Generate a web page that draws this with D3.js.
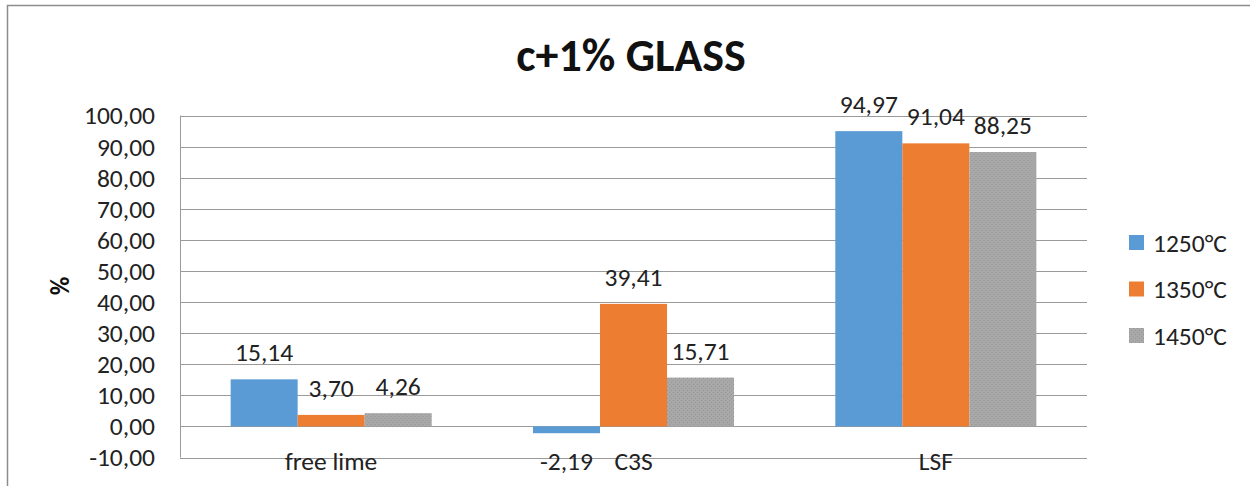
<!DOCTYPE html>
<html><head><meta charset="utf-8">
<script src="https://cdn.jsdelivr.net/npm/d3@7"></script>
<style>body{margin:0;background:#fff;}svg{display:block;font-family:Carlito,Lato,sans-serif;}</style>
</head><body>
<svg id="c" width="1250" height="486"></svg>
<script>
const categories = ["free lime", "C3S", "LSF"];
const seriesNames = ["1250°C", "1350°C", "1450°C"];
const values1250 = [15.14, -2.19, 94.97];
const values1350 = [3.70, 39.41, 91.04];
const values1450 = [4.26, 15.71, 88.25];
const yTicks = [-10, 0, 10, 20, 30, 40, 50, 60, 70, 80, 90, 100];
const colors = ["#5B9BD5", "#ED7D31", "#A5A5A5"];
const series = [values1250, values1350, values1450];
const FS = 25.5;

const svg = d3.select("#c");
const defs = svg.append("defs");
const pat = defs.append("pattern").attr("id","gp").attr("width",4).attr("height",4).attr("patternUnits","userSpaceOnUse");
pat.append("rect").attr("width",4).attr("height",4).attr("fill","#A8A8A8");
pat.append("rect").attr("x",0).attr("y",0).attr("width",1).attr("height",1).attr("fill","#969696");
pat.append("rect").attr("x",2).attr("y",2).attr("width",1).attr("height",1).attr("fill","#969696");

// frame
svg.append("path").attr("d","M7.5,490 L7.5,5.5 L1260,5.5").attr("fill","none").attr("stroke","#8c8c8c").attr("stroke-width",1.5);

const L = 180, R = 1087, T = 115.5, B = 457.5;
const y = d3.scaleLinear().domain([-10, 100]).range([B, T]);
const x0 = d3.scaleBand().domain(categories).range([L, R]).paddingInner(0.335).paddingOuter(0.1675);
const x1 = d3.scaleBand().domain(seriesNames).range([0, x0.bandwidth()]);

// gridlines
svg.append("g").selectAll("line").data(yTicks).join("line")
  .attr("x1", L).attr("x2", R).attr("y1", d => Math.round(y(d))+0.5).attr("y2", d => Math.round(y(d))+0.5)
  .attr("stroke", "#9a9a9a").attr("stroke-width", 1);
svg.append("line").attr("x1", L+0.5).attr("x2", L+0.5).attr("y1", y(100)).attr("y2", y(-10)).attr("stroke","#9a9a9a");

// y labels
const fmt = v => d3.format(".2f")(v).replace(".", ",").replace("−","-");
svg.append("g").selectAll("text").data(yTicks).join("text")
  .attr("x", 155).attr("y", d => y(d)).attr("dy", "0.35em").attr("text-anchor", "end")
  .attr("font-size", FS).attr("fill", "#222").text(d => fmt(d));

// bars
const groups = svg.append("g").selectAll("g").data(categories).join("g")
  .attr("transform", d => `translate(${x0(d)},0)`);
series.forEach((vals, si) => {
  groups.append("rect")
    .attr("x", x1(seriesNames[si])).attr("width", x1.bandwidth())
    .attr("y", (d, i) => y(Math.max(0, vals[i])))
    .attr("height", (d, i) => Math.abs(y(vals[i]) - y(0)))
    .attr("fill", si === 2 ? "url(#gp)" : colors[si]);
  groups.append("text")
    .attr("x", x1(seriesNames[si]) + x1.bandwidth()/2)
    .attr("y", (d, i) => vals[i] >= 0 ? y(vals[i]) - 18 : 470)
    .attr("text-anchor", "middle").attr("font-size", FS).attr("fill", "#222")
    .text((d, i) => fmt(vals[i]));
});

// category labels
svg.append("g").selectAll("text").data(categories).join("text")
  .attr("x", d => x0(d) + x0.bandwidth()/2).attr("y", 470)
  .attr("text-anchor", "middle").attr("font-size", FS).attr("fill", "#222").text(d => d);

// title
svg.append("text").attr("x", 631).attr("y", 71).attr("text-anchor", "middle")
  .attr("font-size", 46).attr("font-weight", "bold").attr("fill", "#111").text("c+1% GLASS");

// y axis title
svg.append("text").attr("transform", "translate(69,286) rotate(-90)").attr("text-anchor", "middle")
  .attr("font-size", FS).attr("font-weight", "bold").attr("fill", "#111").text("%");

// legend
const leg = svg.append("g").selectAll("g").data(seriesNames).join("g")
  .attr("transform", (d, i) => `translate(1129,${243 + i*46.5})`);
leg.append("rect").attr("x", 0).attr("y", -8).attr("width", 15).attr("height", 15)
  .attr("fill", (d, i) => i === 2 ? "url(#gp)" : colors[i]);
leg.append("text").attr("x", 24).attr("y", 0).attr("dy", "0.35em").attr("font-size", FS).attr("fill", "#222").text(d => d);
</script>
</body></html>
